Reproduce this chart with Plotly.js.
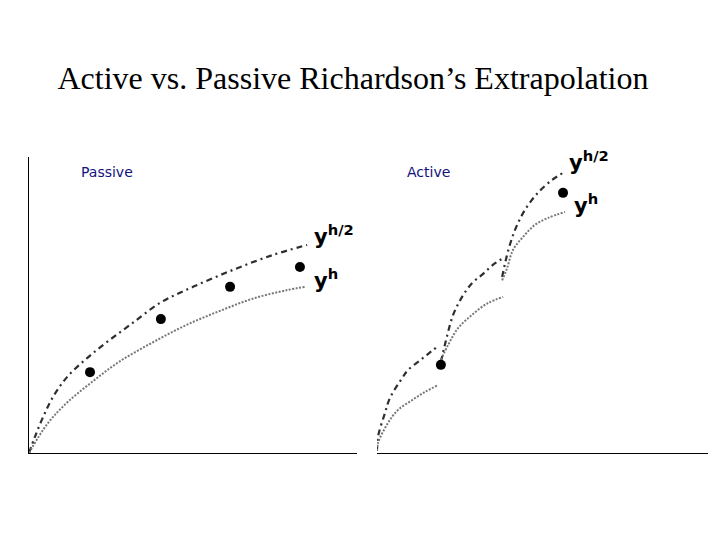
<!DOCTYPE html>
<html>
<head>
<meta charset="utf-8">
<script src="https://cdn.plot.ly/plotly-3.0.1.min.js"></script>
<style>html,body{margin:0;padding:0;background:#fff;}#chart{width:720px;height:540px;}</style>
</head>
<body>
<div id="chart"></div>
<script>
// ---- Passive panel (left) ----
const passiveUpperX = [0, 0.18, 0.43, 0.73, 1.16, 1.77, 2.38, 3.08, 3.99, 5.00, 6.22, 7.44, 8.48];
const passiveUpperY = [0, 0.55, 1.23, 1.91, 2.59, 3.24, 3.79, 4.37, 5.12, 5.67, 6.25, 6.76, 7.10];
const passiveLowerX = [0, 0.55, 1.16, 1.95, 2.77, 3.78, 4.82, 5.82, 6.83, 7.87, 8.41];
const passiveLowerY = [0, 0.98, 1.72, 2.45, 3.13, 3.78, 4.38, 4.85, 5.27, 5.56, 5.67];
const passiveDotsX = [1.86, 4.02, 6.13, 8.26];
const passiveDotsY = [2.76, 4.57, 5.67, 6.35];

// ---- Active panel (right), three restarted steps ----
const activeUpper1X = [0, 0.03, 0.24, 0.39, 0.76, 0.94, 1.24, 1.51, 1.81];
const activeUpper1Y = [0, 0.48, 1.29, 1.80, 2.48, 2.76, 3.03, 3.27, 3.54];
const activeLower1X = [0, 0.03, 0.33, 0.63, 1.06, 1.45, 1.84];
const activeLower1Y = [0, 0.27, 0.95, 1.39, 1.73, 2.01, 2.24];
const activeUpper2X = [1.93, 2.11, 2.30, 2.57, 2.87, 3.17, 3.50, 3.87];
const activeUpper2Y = [3.03, 3.88, 4.63, 5.24, 5.71, 5.99, 6.33, 6.60];
const activeLower2X = [1.93, 2.15, 2.45, 2.87, 3.35, 3.81];
const activeLower2Y = [3.10, 3.61, 4.18, 4.63, 5.03, 5.24];
const activeUpper3X = [3.78, 3.96, 4.17, 4.47, 4.86, 5.29, 5.62];
const activeUpper3Y = [5.92, 6.80, 7.52, 8.20, 8.78, 9.22, 9.46];
const activeLower3X = [3.78, 3.93, 4.11, 4.41, 4.77, 5.17, 5.68];
const activeLower3Y = [5.80, 6.22, 6.84, 7.28, 7.69, 7.93, 8.13];
const activeDotsX = [1.93, 5.62];
const activeDotsY = [2.93, 8.78];

const titleText = "Active vs. Passive Richardson’s Extrapolation";
const panelLabels = ["Passive", "Active"];
const curveLabels = ["y<sup>h/2</sup>", "y<sup>h</sup>"];

const upperLine = {color: '#2e2e2e', width: 2.2, dash: '6px,4px,2px,4px', shape: 'spline'};
const lowerLine = {color: '#777777', width: 2, dash: '2px,1.5px', shape: 'spline'};
const dotMarker = {color: '#000000', size: 10};

function line(x, y, style, xa, ya) {
  return {x: x, y: y, mode: 'lines', line: style, xaxis: xa, yaxis: ya,
          hoverinfo: 'skip', showlegend: false};
}
function dots(x, y, xa, ya) {
  return {x: x, y: y, mode: 'markers', marker: dotMarker, xaxis: xa, yaxis: ya,
          hoverinfo: 'skip', showlegend: false};
}

const traces = [
  line(passiveUpperX, passiveUpperY, upperLine, 'x', 'y'),
  line(passiveLowerX, passiveLowerY, lowerLine, 'x', 'y'),
  dots(passiveDotsX, passiveDotsY, 'x', 'y'),
  line(activeUpper1X, activeUpper1Y, upperLine, 'x2', 'y2'),
  line(activeLower1X, activeLower1Y, lowerLine, 'x2', 'y2'),
  line(activeUpper2X, activeUpper2Y, upperLine, 'x2', 'y2'),
  line(activeLower2X, activeLower2Y, lowerLine, 'x2', 'y2'),
  line(activeUpper3X, activeUpper3Y, upperLine, 'x2', 'y2'),
  line(activeLower3X, activeLower3Y, lowerLine, 'x2', 'y2'),
  dots(activeDotsX, activeDotsY, 'x2', 'y2')
];

function axis(domain) {
  return {domain: domain, range: [0, 10], showline: true, linecolor: '#000', linewidth: 1,
          showgrid: false, zeroline: false, ticks: '', showticklabels: false, fixedrange: true};
}

const labelFont = {family: 'DejaVu Sans', size: 21, color: '#000'};
const panelFont = {family: 'DejaVu Sans', size: 14, color: '#12127e'};

const layout = {
  width: 720, height: 540,
  margin: {l: 0, r: 0, t: 0, b: 0},
  paper_bgcolor: '#fff', plot_bgcolor: 'rgba(0,0,0,0)',
  title: {text: titleText, font: {family: 'Liberation Serif', size: 32, color: '#000'},
          x: 353/720, xanchor: 'center', y: 1 - 78/540, yanchor: 'middle', yref: 'container'},
  xaxis: axis([29/720, 357/720]),
  yaxis: axis([(540-453)/540, (540-160)/540]),
  xaxis2: axis([377/720, 708/720]),
  yaxis2: axis([(540-451)/540, (540-157)/540]),
  annotations: [
    {xref: 'paper', yref: 'paper', x: 79/720, y: (540-172)/540, xanchor: 'left', yanchor: 'middle',
     text: panelLabels[0], showarrow: false, font: panelFont},
    {xref: 'paper', yref: 'paper', x: 405/720, y: (540-172)/540, xanchor: 'left', yanchor: 'middle',
     text: panelLabels[1], showarrow: false, font: panelFont},
    {xref: 'x', yref: 'y', x: 8.62, y: 7.44, xanchor: 'left', yanchor: 'middle',
     text: '<b>' + curveLabels[0] + '</b>', showarrow: false, font: labelFont},
    {xref: 'x', yref: 'y', x: 8.62, y: 5.94, xanchor: 'left', yanchor: 'middle',
     text: '<b>' + curveLabels[1] + '</b>', showarrow: false, font: labelFont},
    {xref: 'x2', yref: 'y2', x: 5.74, y: 9.86, xanchor: 'left', yanchor: 'middle',
     text: '<b>' + curveLabels[0] + '</b>', showarrow: false, font: labelFont},
    {xref: 'x2', yref: 'y2', x: 5.90, y: 8.40, xanchor: 'left', yanchor: 'middle',
     text: '<b>' + curveLabels[1] + '</b>', showarrow: false, font: labelFont}
  ]
};

Plotly.newPlot('chart', traces, layout, {staticPlot: true, displayModeBar: false});
</script>
</body>
</html>
